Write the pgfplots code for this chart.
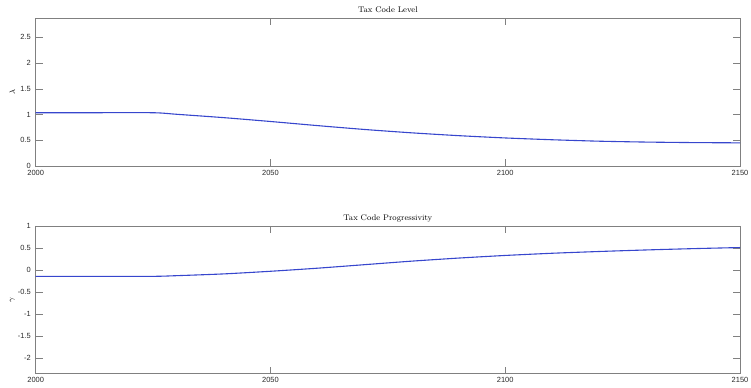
\documentclass[border=0pt]{standalone}
\usepackage{fontspec}
\setsansfont{Liberation Sans}
\usepackage{pgfplots}
\pgfplotsset{compat=1.18}

\definecolor{linecol}{RGB}{55,70,205}
\definecolor{axcol}{RGB}{128,128,128}
\definecolor{labcol}{RGB}{40,40,40}

\pgfplotsset{
  taxaxis/.style={
    scale only axis,
    width=704.3bp,
    height=147.7bp,
    xmin=2000, xmax=2150,
    xtick={2000,2050,2100,2150},
    axis line style={axcol, line width=0.6pt},
    every tick/.style={axcol, line width=0.6pt},
    major tick length=7bp,
    tick align=inside,
    /pgf/number format/assume math mode=true,
    /pgf/number format/1000 sep={},
    tick label style={font=\sffamily\fontsize{7.5}{8}\selectfont, text=labcol},
    xticklabel style={yshift=-0.5bp},
    yticklabel style={xshift=-1.5bp},
    title style={font=\fontsize{8.2}{9}\selectfont, anchor=base, yshift=-0.5bp},
    ylabel style={at={(axis description cs:-0.033,0.5)}, anchor=center,
                  font=\fontsize{8}{9}\selectfont},
  },
}

\begin{document}
\begin{tikzpicture}
% Level of the tax code
\begin{axis}[taxaxis, name=top, at={(0,0)}, anchor=south west,
  ymin=0, ymax=2.87,
  ytick={0,0.5,1,1.5,2,2.5},
  yticklabels={0,0.5,1,1.5,2,2.5},
  title={Tax Code Level},
  ylabel={$\lambda$}]
\addplot[linecol, line width=1.1pt, smooth, tension=0.4] coordinates {
  (2000,1.035) (2010,1.035) (2025,1.035) (2030,1.005) (2040,0.94)
  (2050,0.865) (2060,0.785) (2070,0.71) (2080,0.645) (2090,0.59)
  (2100,0.545) (2110,0.51) (2120,0.482) (2130,0.465) (2140,0.455) (2150,0.45)
};
\end{axis}
% Progressivity of the tax code
\begin{axis}[taxaxis, name=bottom, at={(0,-207.7bp)}, anchor=south west,
  ymin=-2.36, ymax=1,
  ytick={-2,-1.5,-1,-0.5,0,0.5,1},
  yticklabels={-2,-1.5,-1,-0.5,0,0.5,1},
  title={Tax Code Progressivity},
  ylabel={$\gamma$}]
\addplot[linecol, line width=1.1pt, smooth, tension=0.4] coordinates {
  (2000,-0.145) (2010,-0.145) (2025,-0.145) (2030,-0.13) (2040,-0.09)
  (2050,-0.03) (2060,0.04) (2070,0.12) (2080,0.2) (2090,0.27)
  (2100,0.33) (2110,0.38) (2120,0.42) (2130,0.455) (2140,0.485) (2150,0.51)
};
\end{axis}
\pgfresetboundingbox
\path[use as bounding box] (-35.7bp,-222bp) rectangle (715.3bp,166bp);
\end{tikzpicture}
\end{document}
